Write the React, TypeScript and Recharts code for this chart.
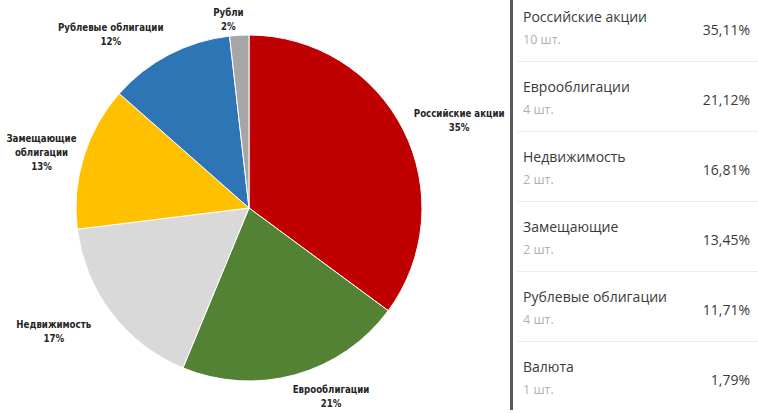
import { PieChart, Pie, Cell } from 'recharts';

const pieNames = [
  'Российские акции',
  'Еврооблигации',
  'Недвижимость',
  'Замещающие\nоблигации',
  'Рублевые облигации',
  'Рубли',
];
const shares = [35.11, 21.12, 16.81, 13.45, 11.71, 1.79];
const tableNames = [
  'Российские акции',
  'Еврооблигации',
  'Недвижимость',
  'Замещающие',
  'Рублевые облигации',
  'Валюта',
];
const counts = [10, 4, 2, 2, 4, 1];

const COLORS = ['#C00000', '#548235', '#D9D9D9', '#FFC000', '#2E75B6', '#A6A6A6'];
// label distance from centre (px) and angle nudge (deg), one per slice
const LABEL_R = [228, 205, 231, 215, 222, 190];
const LABEL_NUDGE = [-4, 8, -5, 2, 11, 3];

const RAD = Math.PI / 180;

const pieData = pieNames.map((name, i) => ({ name, value: shares[i] }));

function renderLabel(props: any) {
  const { cx, cy, midAngle, index, value } = props;
  const ang = midAngle + LABEL_NUDGE[index];
  const x = cx + LABEL_R[index] * Math.cos(-ang * RAD);
  const y = cy + LABEL_R[index] * Math.sin(-ang * RAD);
  const lines = [...pieNames[index].split('\n'), `${Math.round(value)}%`];
  const lh = 14;
  const top = y - ((lines.length - 1) * lh) / 2;
  return (
    <text
      x={x}
      y={top}
      textAnchor="middle"
      dominantBaseline="central"
      fill="#262626"
      fontSize={9.6}
      fontWeight="bold"
      fontFamily="'DejaVu Sans Condensed', 'DejaVu Sans', sans-serif"
    >
      {lines.map((l, k) => (
        <tspan key={k} x={x} dy={k === 0 ? 0 : lh}>
          {l}
        </tspan>
      ))}
    </text>
  );
}

export default function App() {
  return (
    <div
      style={{
        position: 'absolute',
        left: 0,
        top: 0,
        width: 758,
        height: 413,
        background: '#fff',
        overflow: 'hidden',
      }}
    >
      <PieChart width={512} height={413} margin={{ top: 0, right: 0, bottom: 0, left: 0 }}>
        <Pie
          data={pieData}
          dataKey="value"
          cx={249}
          cy={208}
          outerRadius={173}
          startAngle={90}
          endAngle={-270}
          stroke="#fff"
          strokeWidth={1}
          label={renderLabel}
          labelLine={false}
          isAnimationActive={false}
        >
          {pieData.map((d, i) => (
            <Cell key={d.name} fill={COLORS[i]} />
          ))}
        </Pie>
      </PieChart>

      <div
        style={{
          position: 'absolute',
          left: 510,
          top: 0,
          width: 3,
          height: 410,
          background: '#5a5a5a',
        }}
      />
      {tableNames.map((name, i) => {
        const top = -8 + i * 70;
        return (
          <div
            key={name}
            style={{
              position: 'absolute',
              left: 517,
              top,
              width: 241,
              height: 70,
              borderBottom: i < tableNames.length - 1 ? '1px solid #eeeeee' : 'none',
              boxSizing: 'border-box',
              fontFamily: "'Open Sans', sans-serif",
            }}
          >
            <div
              style={{
                position: 'absolute',
                left: 6,
                top: 15,
                fontSize: 14,
                color: '#3a3a3a',
                lineHeight: '20px',
              }}
            >
              {name}
            </div>
            <div
              style={{
                position: 'absolute',
                left: 6,
                top: 39,
                fontSize: 12.5,
                color: '#b0b0b0',
                lineHeight: '18px',
              }}
            >
              {counts[i]} шт.
            </div>
            <div
              style={{
                position: 'absolute',
                right: 8,
                top: 28,
                fontSize: 14,
                color: '#3a3a3a',
                lineHeight: '20px',
              }}
            >
              {shares[i].toFixed(2).replace('.', ',')}%
            </div>
          </div>
        );
      })}
    </div>
  );
}
